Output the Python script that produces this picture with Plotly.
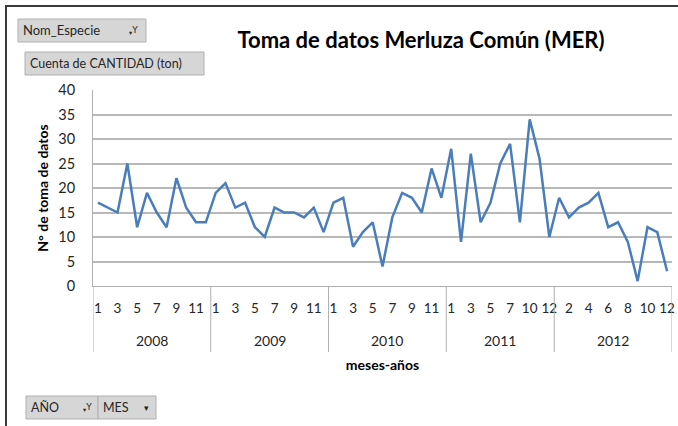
import plotly.graph_objects as go

# ---- data ----
years = ["2008", "2009", "2010", "2011", "2012"]
months_2008 = [1, 2, 3, 4, 5, 6, 7, 8, 9, 10, 11, 12]
months_2009 = [1, 2, 3, 4, 5, 6, 7, 8, 9, 10, 11, 12]
months_2010 = [1, 2, 3, 4, 5, 6, 7, 8, 9, 10, 11, 12]
months_2011 = [1, 2, 3, 4, 5, 6, 7, 8, 10, 11, 12]
months_2012 = [1, 2, 3, 4, 5, 6, 7, 8, 9, 10, 11, 12]
values_2008 = [17, 16, 15, 25, 12, 19, 15, 12, 22, 16, 13, 13]
values_2009 = [19, 21, 16, 17, 12, 10, 16, 15, 15, 14, 16, 11]
values_2010 = [17, 18, 8, 11, 13, 4, 14, 19, 18, 15, 24, 18]
values_2011 = [28, 9, 27, 13, 17, 25, 29, 13, 34, 26, 10]
values_2012 = [18, 14, 16, 17, 19, 12, 13, 9, 1, 12, 11, 3]

title = "Toma de datos Merluza Común (MER)"
y_title = "N° de toma de datos"
x_title = "meses-años"

months_by_year = [months_2008, months_2009, months_2010, months_2011, months_2012]
values_by_year = [values_2008, values_2009, values_2010, values_2011, values_2012]

cats, vals, mlabels = [], [], []
for yr, ms, vs in zip(years, months_by_year, values_by_year):
    for m, v in zip(ms, vs):
        cats.append(f"{yr}-{m}")
        mlabels.append(str(m))
        vals.append(v)

# ---- layout geometry (pixels) ----
W, H = 678, 426
L, R, T, B = 93, 672, 90, 286


def px(xp):
    return (xp - L) / (R - L)


def py(yp):
    return (B - yp) / (B - T)


FONT = "Lato"
fig = go.Figure()
fig.add_trace(go.Scatter(
    x=cats, y=vals, mode="lines",
    line=dict(color="#4a7ebb", width=2.5),
    hoverinfo="x+y", showlegend=False,
))

tickvals = cats[::2]
ticktext = mlabels[::2]

shapes = []
annotations = []

# outer frame
shapes.append(dict(type="rect", xref="paper", yref="paper",
                   x0=px(6), x1=px(700), y0=py(6), y1=py(450),
                   line=dict(color="#3a3a3a", width=2), fillcolor="rgba(0,0,0,0)", layer="below"))

# year dividers and labels
idx = 0
bounds = [-0.5]
for yr, ms in zip(years, months_by_year):
    start = idx
    idx += len(ms)
    bounds.append(idx - 0.5)
    annotations.append(dict(x=(start + idx - 1) / 2, xref="x", y=py(340), yref="paper",
                            yanchor="middle", text=yr, showarrow=False,
                            font=dict(family=FONT, size=14, color="#262626")))
for b in bounds:
    shapes.append(dict(type="line", xref="x", yref="paper", x0=b, x1=b,
                       y0=0, y1=py(352), line=dict(color="#b0b0b0", width=1)))


def button(x0, x1, y0, y1, text, size=12.5):
    shapes.append(dict(type="rect", xref="paper", yref="paper",
                       x0=px(x0), x1=px(x1), y0=py(y0), y1=py(y1),
                       line=dict(color="#b0b0b0", width=1), fillcolor="#d6d6d6"))
    annotations.append(dict(x=px(x0 + 3), y=py((y0 + y1) / 2), xref="paper", yref="paper",
                            xanchor="left", yanchor="middle", text=text, showarrow=False,
                            font=dict(family=FONT, size=size, color="#262626")))


def icon(xc, yc, text, size=10):
    annotations.append(dict(x=px(xc), y=py(yc), xref="paper", yref="paper", text=text,
                            xanchor="center", yanchor="middle",
                            showarrow=False, font=dict(family="DejaVu Sans", size=size, color="#262626")))


button(18, 146, 19, 42, "Nom_Especie", 13)
icon(133, 30, "<sub>▾</sub>Y", 9)
button(25, 204, 52, 75, "Cuenta de CANTIDAD (ton)", 12.5)
button(26, 98, 396, 419, "AÑO")
icon(87, 407, "<sub>▾</sub>Y", 9)
button(98, 156, 396, 419, "MES")
icon(146, 408, "▾", 9)

fig.update_layout(
    width=W, height=H,
    margin=dict(l=L, r=W - R, t=T, b=H - B, autoexpand=False),
    paper_bgcolor="white", plot_bgcolor="white",
    title=dict(text=f"<b>{title}</b>", x=421 / W, xanchor="center", y=1 - 40 / H, yanchor="middle",
               font=dict(family=FONT, size=22, color="#000000")),
    xaxis=dict(type="category", range=[-0.5, len(cats) - 0.5],
               tickmode="array", tickvals=tickvals, ticktext=ticktext, tickangle=0,
               ticks="outside", ticklen=10, tickcolor="rgba(0,0,0,0)",
               tickfont=dict(family=FONT, size=13.5, color="#262626"),
               showgrid=False, showline=True, linecolor="#b0b0b0", linewidth=1,
               title=dict(text=f"<b>{x_title}</b>", standoff=44,
                          font=dict(family=FONT, size=14, color="#000000")),
               automargin=False, fixedrange=True),
    yaxis=dict(range=[0, 40], tickvals=[0, 5, 10, 15, 20, 25, 30, 35, 40],
               showgrid=True, gridcolor="#b8b8b8", gridwidth=1.5,
               showline=True, linecolor="#b0b0b0", linewidth=1,
               ticks="", ticklabelstandoff=14,
               tickfont=dict(family=FONT, size=14.5, color="#262626"),
               title=dict(text=f"<b>{y_title}</b>", standoff=6,
                          font=dict(family=FONT, size=14, color="#000000")),
               zeroline=False, automargin=False, fixedrange=True),
    shapes=shapes, annotations=annotations,
)

fig.write_html("out.html", config={"displayModeBar": False},
               post_script="document.body.style.margin='0';document.body.style.overflow='hidden';")
